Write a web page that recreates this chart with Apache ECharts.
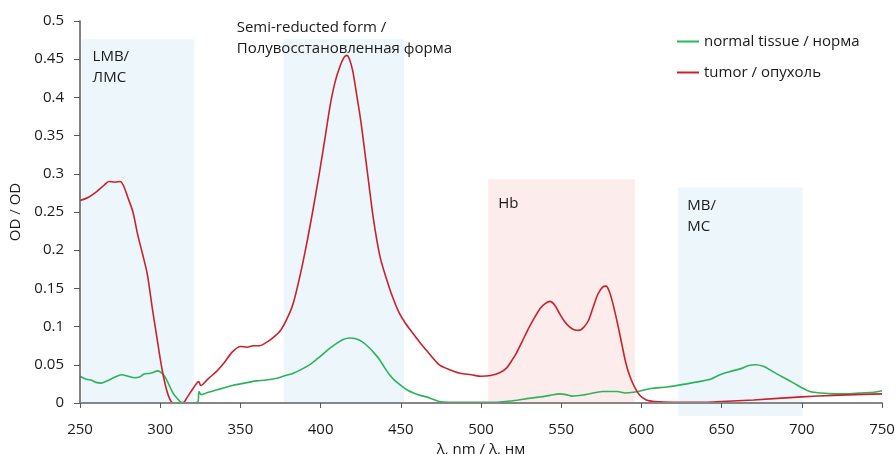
<!DOCTYPE html>
<html lang="ru">

<head>
    <meta charset="UTF-8">
    <title>OD spectra</title>
    <script src="https://cdn.jsdelivr.net/npm/echarts@6.0.0/dist/echarts.min.js"></script>
    <style>
        body { margin: 0; background: #fff; }
    </style>
</head>

<body>
    <div id="myChart" style="width: 896px; height: 454px;"></div>
    <script>
        // tumor / опухоль
        const tumorNm = [250, 255, 260, 265, 268, 272, 275, 277, 280, 283, 286, 289, 292, 295, 298, 300, 302, 304, 306, 308,
            314, 317, 320.5, 324, 325.3, 330, 335, 340, 345, 350, 354, 358, 362, 366, 370, 375, 379, 383, 387, 391,
            395, 399, 403, 406, 409, 412, 414.5, 416.3, 418, 420, 422, 425, 429, 433, 437, 441, 445, 449, 453, 458,
            462, 466, 470, 474, 480, 487, 494, 500, 506, 512, 516, 519, 522, 526, 530, 534, 537, 540, 543, 546,
            549, 552, 555, 558, 561, 564, 567, 570, 573, 576, 578, 580, 582, 585, 588, 590, 592, 595, 599, 603,
            608, 620, 640, 650, 670, 700, 720, 750];
        const tumorOd = [0.265, 0.269, 0.276, 0.285, 0.290, 0.289, 0.290, 0.285, 0.268, 0.250, 0.220, 0.195, 0.168, 0.125, 0.085, 0.058, 0.035, 0.017, 0.005, 0,
            0, 0.008, 0.019, 0.028, 0.023, 0.032, 0.041, 0.053, 0.067, 0.074, 0.073, 0.075, 0.075, 0.079, 0.085, 0.095, 0.110, 0.131, 0.165, 0.205,
            0.250, 0.298, 0.350, 0.390, 0.420, 0.440, 0.452, 0.455, 0.450, 0.435, 0.410, 0.370, 0.305, 0.240, 0.192, 0.163, 0.138, 0.118, 0.104, 0.090,
            0.079, 0.069, 0.059, 0.050, 0.044, 0.039, 0.037, 0.035, 0.036, 0.040, 0.046, 0.055, 0.065, 0.082, 0.099, 0.114, 0.124, 0.130, 0.133, 0.128,
            0.117, 0.107, 0.100, 0.096, 0.095, 0.099, 0.108, 0.126, 0.143, 0.152, 0.153, 0.146, 0.132, 0.105, 0.075, 0.055, 0.040, 0.024, 0.010, 0.004,
            0.002, 0.001, 0.001, 0.002, 0.004, 0.008, 0.010, 0.012];

        // normal tissue / норма
        const normalNm = [250, 254, 257, 260, 263, 267, 271, 276, 280, 284, 287, 290, 294, 298.6, 301, 303, 305, 308, 311, 313,
            318, 323.3, 324.2, 325.5, 330, 335, 340, 345, 350, 355, 360, 366, 372, 378, 383, 388, 393, 398, 402, 406,
            410, 414, 418, 422, 426, 430, 434, 437, 440, 443, 446, 450, 454, 458, 462, 466, 470, 474, 480, 490,
            500, 510, 515, 520, 530, 537, 543, 549, 553, 557, 565, 570, 576, 585, 590, 595, 600, 606, 616, 625,
            636, 643, 649, 655, 662, 667, 671, 676, 682, 688, 695, 700, 705, 712, 720, 730, 736, 745, 750];
        const normalOd = [0.035, 0.031, 0.030, 0.027, 0.026, 0.029, 0.033, 0.037, 0.035, 0.033, 0.034, 0.038, 0.039, 0.042, 0.039, 0.034, 0.026, 0.013, 0.005, 0.001,
            0, 0.001, 0.015, 0.011, 0.014, 0.017, 0.020, 0.023, 0.025, 0.027, 0.029, 0.030, 0.032, 0.036, 0.039, 0.044, 0.050, 0.058, 0.065, 0.072,
            0.078, 0.083, 0.085, 0.084, 0.080, 0.073, 0.064, 0.056, 0.046, 0.037, 0.030, 0.023, 0.017, 0.013, 0.010, 0.008, 0.005, 0.002, 0.001, 0.001,
            0.001, 0.001, 0.002, 0.003, 0.006, 0.008, 0.010, 0.012, 0.011, 0.009, 0.011, 0.013, 0.015, 0.015, 0.013, 0.014, 0.016, 0.019, 0.021, 0.024,
            0.028, 0.031, 0.037, 0.041, 0.045, 0.049, 0.050, 0.048, 0.041, 0.034, 0.026, 0.020, 0.015, 0.013, 0.012, 0.012, 0.013, 0.014, 0.016];

        // shaded bands
        const bandNames = ['LMB/\nЛМС', 'Semi-reducted form /\nПолувосстановленная форма', 'Hb', 'MB/\nMC'];
        const bandStart = [251, 377, 504.5, 623];
        const bandEnd = [321, 452, 596, 700.5];
        const bandTop = [0.476, 0.476, 0.293, 0.282];
        const bandBottom = [0, 0, 0, -0.017];

        const FONT = 'Open Sans';
        const bandColors = ['#edf6fa', '#edf6fa', '#fcecec', '#edf6fa'];
        const labelPos = [[11, 7], [-47, -22], [10, 14], [9, 8]];

        const pair = (xs, ys) => xs.map((x, i) => [x, ys[i]]);

        const bandData = bandNames.map((name, i) => [
            {
                name: name,
                xAxis: bandStart[i],
                yAxis: bandTop[i],
                itemStyle: { color: bandColors[i] },
                label: { position: labelPos[i] }
            },
            { xAxis: bandEnd[i], yAxis: bandBottom[i] }
        ]);

        const myChart = echarts.init(document.getElementById('myChart'));
        const option = {
            animation: false,
            textStyle: { fontFamily: FONT },
            grid: [
                { left: 80, right: 14, top: 21, bottom: 51, outerBoundsMode: 'none', containLabel: false },
                { left: 80, right: 14, top: 21, bottom: 38, outerBoundsMode: 'none', containLabel: false }
            ],
            legend: {
                orient: 'vertical',
                left: 677,
                top: 34,
                padding: 0,
                icon: 'rect',
                itemWidth: 22,
                itemHeight: 2,
                itemGap: 16,
                textStyle: { fontFamily: FONT, fontSize: 15, color: '#1a1a1a' },
                data: ['normal tissue / норма', 'tumor / опухоль']
            },
            xAxis: [
                {
                    type: 'value', gridIndex: 0, min: 250, max: 750, interval: 50, z: 5,
                    name: 'λ, nm / λ, нм', nameLocation: 'middle', nameGap: 34,
                    nameTextStyle: { fontFamily: FONT, fontSize: 15, color: '#1a1a1a' },
                    axisLine: { lineStyle: { color: '#868686', width: 2 } },
                    axisTick: { show: true, length: 5, lineStyle: { color: '#595959' } },
                    axisLabel: { fontSize: 15, color: '#1a1a1a', margin: 19 },
                    splitLine: { show: false }
                },
                {
                    type: 'value', gridIndex: 1, min: 250, max: 750, show: false
                }
            ],
            yAxis: [
                {
                    type: 'value', gridIndex: 0, min: 0, max: 0.5, interval: 0.05, z: 5,
                    name: 'OD / OD', nameLocation: 'middle', nameGap: 54, nameRotate: 90,
                    nameTextStyle: { fontFamily: FONT, fontSize: 15, color: '#1a1a1a' },
                    axisLine: { show: true, lineStyle: { color: '#595959', width: 1.5 } },
                    axisTick: { show: true, length: 6, lineStyle: { color: '#595959' } },
                    axisLabel: { fontSize: 15, color: '#1a1a1a', margin: 16 },
                    splitLine: { show: false }
                },
                {
                    type: 'value', gridIndex: 1, min: -0.017, max: 0.5, show: false
                }
            ],
            series: [
                {
                    type: 'line',
                    xAxisIndex: 1,
                    yAxisIndex: 1,
                    data: [],
                    silent: true,
                    z: 0,
                    markArea: {
                        silent: true,
                        label: {
                            show: true,
                            fontFamily: FONT,
                            fontSize: 15,
                            color: '#1a1a1a',
                            lineHeight: 21,
                            align: 'left',
                            verticalAlign: 'top'
                        },
                        data: bandData
                    }
                },
                {
                    name: 'normal tissue / норма',
                    type: 'line',
                    data: pair(normalNm, normalOd),
                    symbol: 'none',
                    smooth: 0.3,
                    lineStyle: { color: '#2db35a', width: 1.6 },
                    itemStyle: { color: '#2db35a' },
                    z: 3
                },
                {
                    name: 'tumor / опухоль',
                    type: 'line',
                    data: pair(tumorNm, tumorOd),
                    symbol: 'none',
                    smooth: 0.3,
                    lineStyle: { color: '#c9222c', width: 1.6 },
                    itemStyle: { color: '#c9222c' },
                    z: 4
                }
            ]
        };
        myChart.setOption(option);
    </script>
</body>

</html>
